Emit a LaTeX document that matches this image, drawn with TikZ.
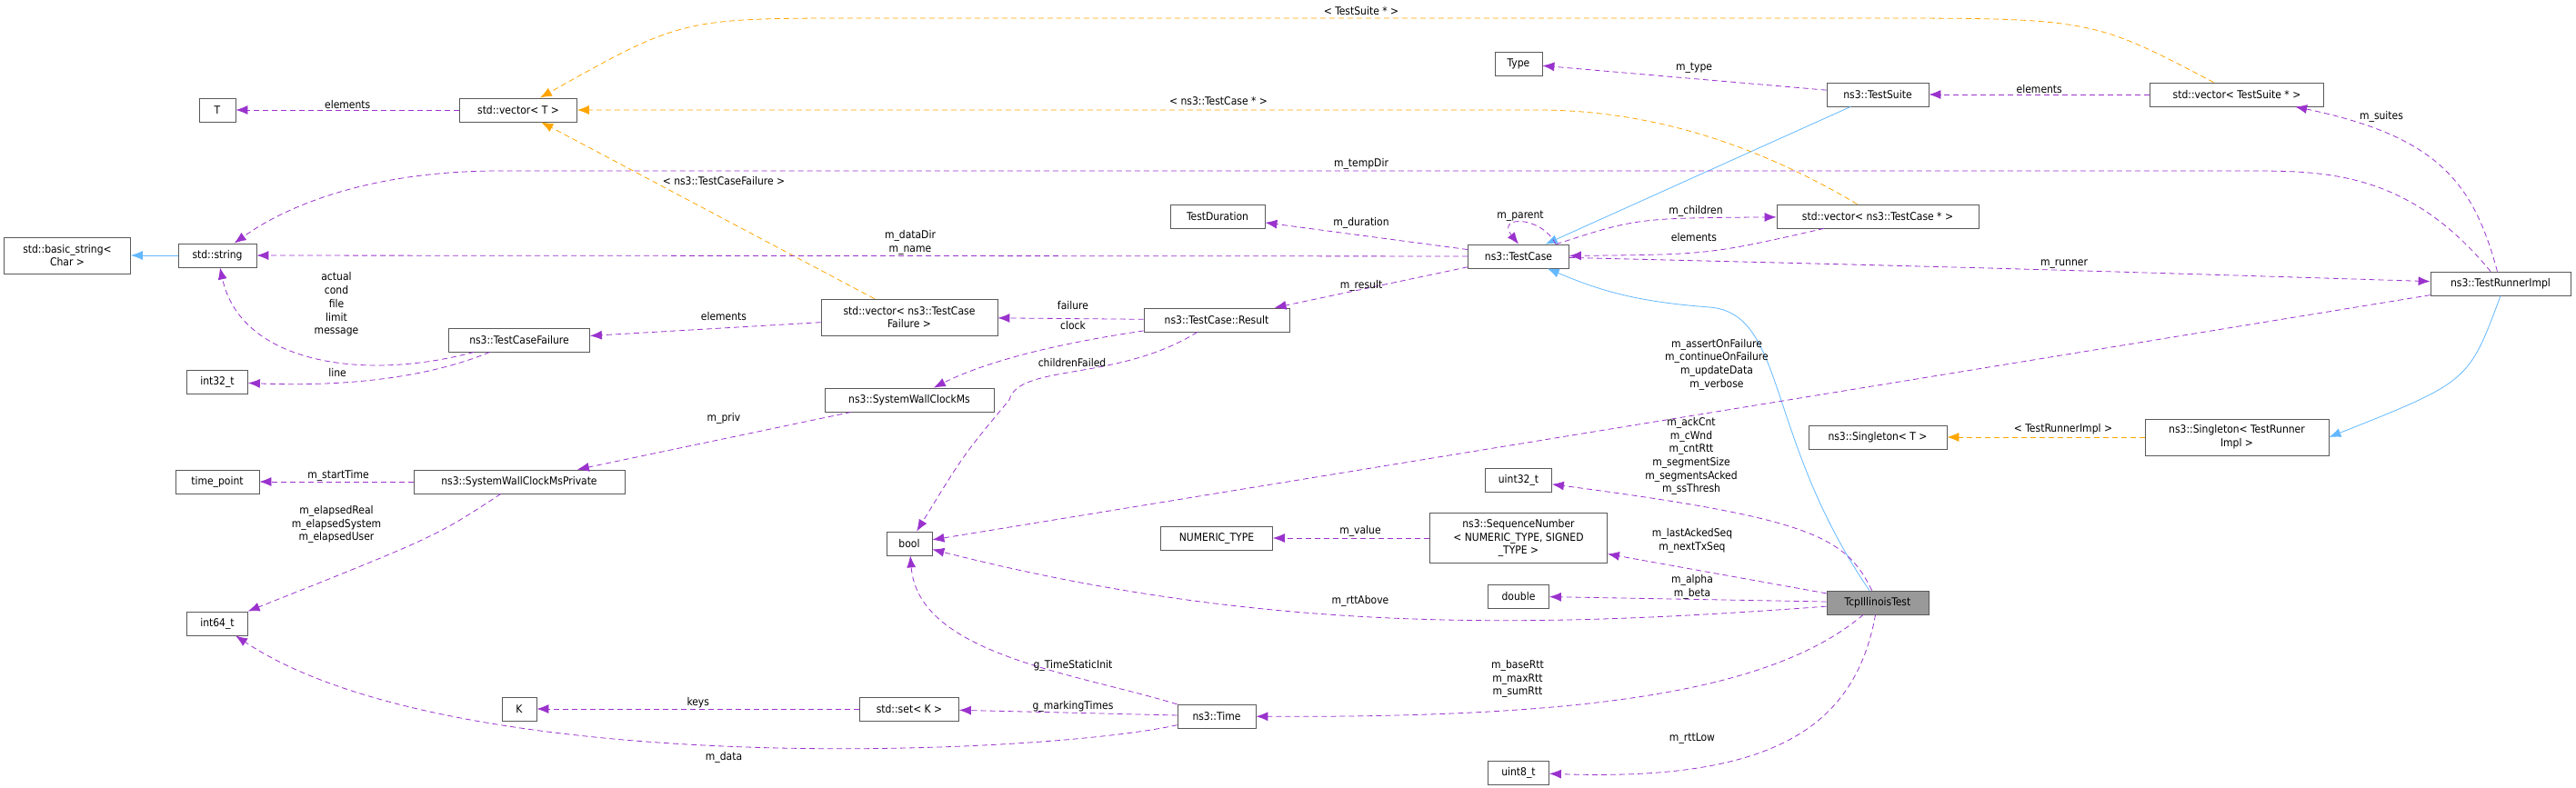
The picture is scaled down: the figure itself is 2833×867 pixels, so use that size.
\documentclass[tikz,border=0pt]{standalone}
\usepackage{fontspec}
\setmainfont{DejaVu Sans Condensed}
\usepackage{xcolor}
\usetikzlibrary{arrows.meta}

\definecolor{usecol}{HTML}{9A32CD}
\definecolor{tplcol}{HTML}{FFA500}
\definecolor{inhcol}{HTML}{63B8FF}

\begin{document}
\begin{tikzpicture}[x=1pt, y=-1pt, font=\fontsize{12}{14.7}\selectfont]
        \tikzstyle{cls}=[draw=gray!70!black, fill=white, rectangle, minimum height=26pt, inner sep=2pt, align=center, thick]
        \tikzstyle{lbl}=[inner sep=1pt, align=center, text=black]
        \tikzstyle{use}=[usecol, thick, dash pattern=on 6pt off 4pt, -{Latex[length=13pt,width=10pt]}]
        \tikzstyle{tpl}=[tplcol, thick, dash pattern=on 6pt off 4pt, -{Latex[length=13pt,width=10pt]}]
        \tikzstyle{inh}=[inhcol, thick, -{Latex[length=13pt,width=10pt]}]
        \useasboundingbox (0,0) rectangle (2833,867);

        % Left column
        \node at (239,121) [cls, minimum width=40pt] (T) {T};
        \node at (570,121) [cls, minimum width=129pt] (vecT) {std::vector< T >};
        \node at (74,281) [cls, minimum width=139pt, minimum height=40pt] (bstr) {std::basic\_string<\\ Char >};
        \node at (239,281) [cls, minimum width=86pt] (str) {std::string};
        \node at (239,420) [cls, minimum width=67pt] (i32) {int32\_t};
        \node at (571,374) [cls, minimum width=155pt] (tcf) {ns3::TestCaseFailure};
        \node at (239,530) [cls, minimum width=92pt] (tp) {time\_point};
        \node at (571,530) [cls, minimum width=232pt] (swcp) {ns3::SystemWallClockMsPrivate};
        \node at (239,686) [cls, minimum width=67pt] (i64) {int64\_t};
        \node at (571,780) [cls, minimum width=38pt] (K) {K};

        % Middle
        \node at (1000,349) [cls, minimum width=194pt, minimum height=40pt] (vtcf) {std::vector< ns3::TestCase\\ Failure >};
        \node at (1000,440) [cls, minimum width=186pt] (swc) {ns3::SystemWallClockMs};
        \node at (1000,598) [cls, minimum width=50pt] (bool) {bool};
        \node at (1000,780) [cls, minimum width=109pt] (setK) {std::set< K >};
        \node at (1339,238) [cls, minimum width=104pt] (tdur) {TestDuration};
        \node at (1338,352) [cls, minimum width=160pt] (res) {ns3::TestCase::Result};
        \node at (1338,592) [cls, minimum width=123pt] (num) {NUMERIC\_TYPE};
        \node at (1338,788) [cls, minimum width=86pt] (time) {ns3::Time};

        \node at (1670,70) [cls, minimum width=52pt] (type) {Type};
        \node at (1670,282) [cls, minimum width=111pt] (tc) {ns3::TestCase};
        \node at (1670,528) [cls, minimum width=73pt] (u32) {uint32\_t};
        \node at (1670,592) [cls, minimum width=195pt, minimum height=55pt] (seq) {ns3::SequenceNumber\\ < NUMERIC\_TYPE, SIGNED\\ \_TYPE >};
        \node at (1670,656) [cls, minimum width=67pt] (dbl) {double};
        \node at (1670,850) [cls, minimum width=67pt] (u8) {uint8\_t};

        % Right
        \node at (2065,104) [cls, minimum width=112pt] (suite) {ns3::TestSuite};
        \node at (2065,238) [cls, minimum width=222pt] (vtc) {std::vector< ns3::TestCase * >};
        \node at (2065,481) [cls, minimum width=152pt] (singT) {ns3::Singleton< T >};
        \node at (2065,663) [cls, minimum width=112pt, fill=gray!80] (tit) {TcpIllinoisTest};
        \node at (2460,104) [cls, minimum width=191pt] (vsuite) {std::vector< TestSuite * >};
        \node at (2460,481) [cls, minimum width=202pt, minimum height=40pt] (singR) {ns3::Singleton< TestRunner\\ Impl >};
        \node at (2750,312) [cls, minimum width=154pt] (tri) {ns3::TestRunnerImpl};

        % Inheritance
        \draw [inh] (str) to (bstr);
        \draw [inh] (suite) to (tc);
        \draw [inh] (tri.south) .. controls (2715,420) .. (singR.east);
        \draw [inh] (tit) .. controls (1940,480) and (1965,345) .. (1880,338) .. controls (1800,332) and (1760,320) .. (tc);

        % Template instances
        \draw [tpl] (vsuite) .. controls (2300,20) .. (2050,20) -- (950,20) .. controls (750,20) .. (vecT);
        \node at (1497,12) [lbl] (l_ts) {< TestSuite * >};
        \draw [tpl] (vtc) .. controls (1900,140) and (1780,121) .. (1690,121) -- (vecT);
        \node at (1340,111) [lbl] (l_tc) {< ns3::TestCase * >};
        \draw [tpl] (vtcf) to (vecT);
        \node at (796,199) [lbl] (l_tcf) {< ns3::TestCaseFailure >};
        \draw [tpl] (singR) to (singT);
        \node at (2269,472) [lbl] (l_tri) {< TestRunnerImpl >};

        % Usage
        \draw [use] (vecT) to node[lbl, above] {elements} (T);
        \draw [use] (tcf) .. controls (400,420) and (265,400) .. (str);
        \node at (370,335) [lbl] (l_act) {actual\\ cond\\ file\\ limit\\ message};
        \draw [use] (tcf) .. controls (460,420) and (360,425) .. (i32);
        \node at (371,410) [lbl] (l_line) {line};
        \draw [use] (vtcf) to (tcf);
        \node at (796,348) [lbl] (l_el1) {elements};
        \draw [use] (res) to (vtcf);
        \node at (1180,336) [lbl] (l_fail) {failure};
        \draw [use] (res) .. controls (1150,380) and (1080,400) .. (swc);
        \node at (1180,358) [lbl] (l_clock) {clock};
        \draw [use] (res) .. controls (1230,420) and (1120,400) .. (1110,440) .. controls (1060,500) .. (bool);
        \node at (1179,399) [lbl] (l_chf) {childrenFailed};
        \draw [use] (swc) to (swcp);
        \node at (796,460) [lbl] (l_priv) {m\_priv};
        \draw [use] (swcp) to (tp);
        \node at (372,523) [lbl] (l_st) {m\_startTime};
        \draw [use] (swcp) .. controls (480,590) .. (i64);
        \node at (370,577) [lbl] (l_el) {m\_elapsedReal\\ m\_elapsedSystem\\ m\_elapsedUser};
        \draw [use] (tc) to (str);
        \node at (1001,267) [lbl] (l_dd) {m\_dataDir\\ m\_name};
        \draw [use] (tc) to (tdur);
        \node at (1497,245) [lbl] (l_dur) {m\_duration};
        \draw [use] (tc.north east) ++(-15,0) .. controls (1695,237) and (1645,237) .. (tc.north);
        \node at (1672,238) [lbl] (l_par) {m\_parent};
        \draw [use] (tc) .. controls (1800,240) .. (vtc);
        \node at (1865,232) [lbl] (l_ch) {m\_children};
        \draw [use] (vtc) .. controls (1880,280) .. (tc);
        \node at (1863,261) [lbl] (l_el2) {elements};
        \draw [use] (tc) to (res);
        \node at (1497,314) [lbl] (l_res) {m\_result};
        \draw [use] (tc) .. controls (2200,295) .. (tri);
        \node at (2270,291) [lbl] (l_run) {m\_runner};
        \draw [use] (suite) to (type);
        \node at (1863,75) [lbl] (l_type) {m\_type};
        \draw [use] (vsuite) to node[lbl, above] {elements} (suite);
        \draw [use] (tri) .. controls (2720,200) and (2680,150) .. (vsuite);
        \node at (2619,128) [lbl] (l_su) {m\_suites};
        \draw [use] (tri) .. controls (2650,190) and (2560,188) .. (2475,188) -- (550,188) .. controls (400,188) and (310,230) .. (str);
        \node at (1497,180) [lbl] (l_tmp) {m\_tempDir};
        \draw [use] (tri) to (bool);
        \node at (1888,401) [lbl] (l_ass) {m\_assertOnFailure\\ m\_continueOnFailure\\ m\_updateData\\ m\_verbose};
        \draw [use] (tit) .. controls (2030,590) and (1990,570) .. (u32);
        \node at (1860,502) [lbl] (l_ack) {m\_ackCnt\\ m\_cWnd\\ m\_cntRtt\\ m\_segmentSize\\ m\_segmentsAcked\\ m\_ssThresh};
        \draw [use] (seq) to (num);
        \node at (1496,584) [lbl] (l_val) {m\_value};
        \draw [use] (tit) to (seq);
        \node at (1861,595) [lbl] (l_seq) {m\_lastAckedSeq\\ m\_nextTxSeq};
        \draw [use] (tit) to (dbl);
        \node at (1861,646) [lbl] (l_ab) {m\_alpha\\ m\_beta};
        \draw [use] (tit) .. controls (1700,690) and (1400,700) .. (bool);
        \node at (1496,661) [lbl] (l_ra) {m\_rttAbove};
        \draw [use] (tit) .. controls (1950,760) and (1750,790) .. (time);
        \node at (1669,747) [lbl] (l_rtt) {m\_baseRtt\\ m\_maxRtt\\ m\_sumRtt};
        \draw [use] (tit) .. controls (2040,800) and (1950,860) .. (u8);
        \node at (1861,813) [lbl] (l_low) {m\_rttLow};
        \draw [use] (time) .. controls (1180,740) and (1010,720) .. (bool);
        \node at (1180,732) [lbl] (l_gts) {g\_TimeStaticInit};
        \draw [use] (time) to (setK);
        \node at (1180,777) [lbl] (l_gmt) {g\_markingTimes};
        \draw [use] (setK) to node[lbl, above] {keys} (K);
        \draw [use] (time) .. controls (1150,830) and (500,860) .. (i64);
        \node at (796,833) [lbl] (l_dat) {m\_data};
\end{tikzpicture}
\end{document}
